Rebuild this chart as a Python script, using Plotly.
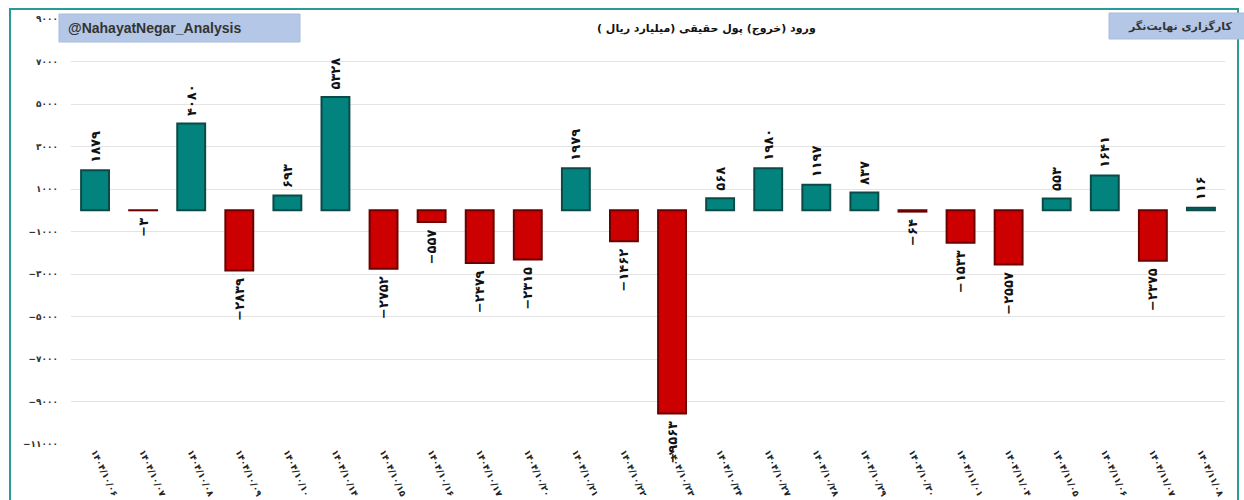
import plotly.graph_objects as go

# ---- data ----
dates = ["1404/10/06", "1404/10/07", "1404/10/08", "1404/10/09", "1404/10/10",
         "1404/10/14", "1404/10/15", "1404/10/16", "1404/10/17", "1404/10/20",
         "1404/10/21", "1404/10/22", "1404/10/23", "1404/10/24", "1404/10/27",
         "1404/10/28", "1404/10/29", "1404/10/30", "1404/11/01", "1404/11/04",
         "1404/11/05", "1404/11/06", "1404/11/07", "1404/11/08"]
values = [1879, -3, 4080, -2839, 693, 5328, -2752, -557, -2479, -2315,
          1979, -1462, -9563, 568, 1980, 1197, 837, -64, -1533, -2557,
          553, 1641, -2375, 116]
y_ticks = [9000, 7000, 5000, 3000, 1000, -1000, -3000, -5000, -7000, -9000, -11000]

title_text = "ورود (خروج) پول حقیقی (میلیارد ریال )"
left_badge = "@NahayatNegar_Analysis"
right_badge = "کارگزاری نهایت‌نگر"

FA = str.maketrans("0123456789", "۰۱۲۳۴۵۶۷۸۹")


def fa(s):
    return str(s).translate(FA).replace("-", "−")


W, H = 1244, 500
L, R, T, B = 71, 1225, 19, 444


def px(x):
    return (x - L) / (R - L)


def py(y):
    return (B - y) / (B - T)


x_labels = [fa(d) for d in dates]
fill = ["#03837e" if v >= 0 else "#cc0000" for v in values]
edge = ["#0b4a47" if v >= 0 else "#6a0000" for v in values]
NB = "\u00a0"
bar_text = [(NB + fa(v)) if v >= 0 else (fa(v) + NB) for v in values]

fig = go.Figure()
fig.add_trace(go.Bar(
    x=x_labels, y=values,
    width=0.58,
    marker=dict(color=fill, line=dict(color=edge, width=2)),
    text=bar_text,
    textposition="outside",
    textangle=-90,
    constraintext="none",
    cliponaxis=False,
    textfont=dict(family="DejaVu Sans", size=13, color="#111111", weight="bold"),
    hoverinfo="skip",
))

fig.update_layout(
    width=W, height=H,
    margin=dict(l=L, r=W - R, t=T, b=H - B),
    paper_bgcolor="white", plot_bgcolor="white",
    showlegend=False,
    bargap=0.42,
    xaxis=dict(
        type="category",
        tickangle=65,
        tickfont=dict(family="DejaVu Sans", size=9, color="#222222", weight="bold"),
        showgrid=False, showline=False, ticks="",
        range=[-0.5, len(values) - 0.5],
        automargin=False,
    ),
    yaxis=dict(
        range=[-11000, 9000],
        tickvals=y_ticks,
        ticktext=[fa(v) for v in y_ticks],
        tickfont=dict(family="DejaVu Sans", size=9, color="#333333", weight="bold"),
        showgrid=True, gridcolor="#e3e3e3", gridwidth=1,
        zeroline=False, showline=False, ticks="",
        ticklabelstandoff=12,
        automargin=False,
    ),
)

shapes = [
    # outer border
    dict(type="rect", xref="paper", yref="paper",
         x0=px(10), x1=px(1238), y0=py(515), y1=py(9),
         line=dict(color="#2a9a96", width=2), layer="above"),
    # left badge
    dict(type="rect", xref="paper", yref="paper",
         x0=px(59), x1=px(300), y0=py(42), y1=py(14),
         fillcolor="#b4c7e7", line=dict(color="#a9bcdc", width=1), layer="above"),
    # right badge
    dict(type="rect", xref="paper", yref="paper",
         x0=px(1109), x1=px(1250), y0=py(39), y1=py(13),
         fillcolor="#b4c7e7", line=dict(color="#a9bcdc", width=1), layer="above"),
]
fig.update_layout(shapes=shapes)

fig.add_annotation(x=px(66), y=py(28), xref="paper", yref="paper",
                   text=left_badge, showarrow=False, xanchor="left", yanchor="middle",
                   font=dict(family="Liberation Sans", size=14, color="#333333", weight="bold"))
fig.add_annotation(x=px(1234), y=py(26), xref="paper", yref="paper",
                   text=right_badge, showarrow=False, xanchor="right", yanchor="middle",
                   font=dict(family="DejaVu Sans", size=11, color="#333333", weight="bold"))
fig.add_annotation(x=px(706), y=py(29), xref="paper", yref="paper",
                   text=title_text, showarrow=False, xanchor="center", yanchor="middle",
                   font=dict(family="DejaVu Sans", size=11, color="#111111", weight="bold"))

fig.write_html("out.html",
               config={"displayModeBar": False},
               post_script="document.body.style.margin='0';document.body.style.overflow='hidden';")
